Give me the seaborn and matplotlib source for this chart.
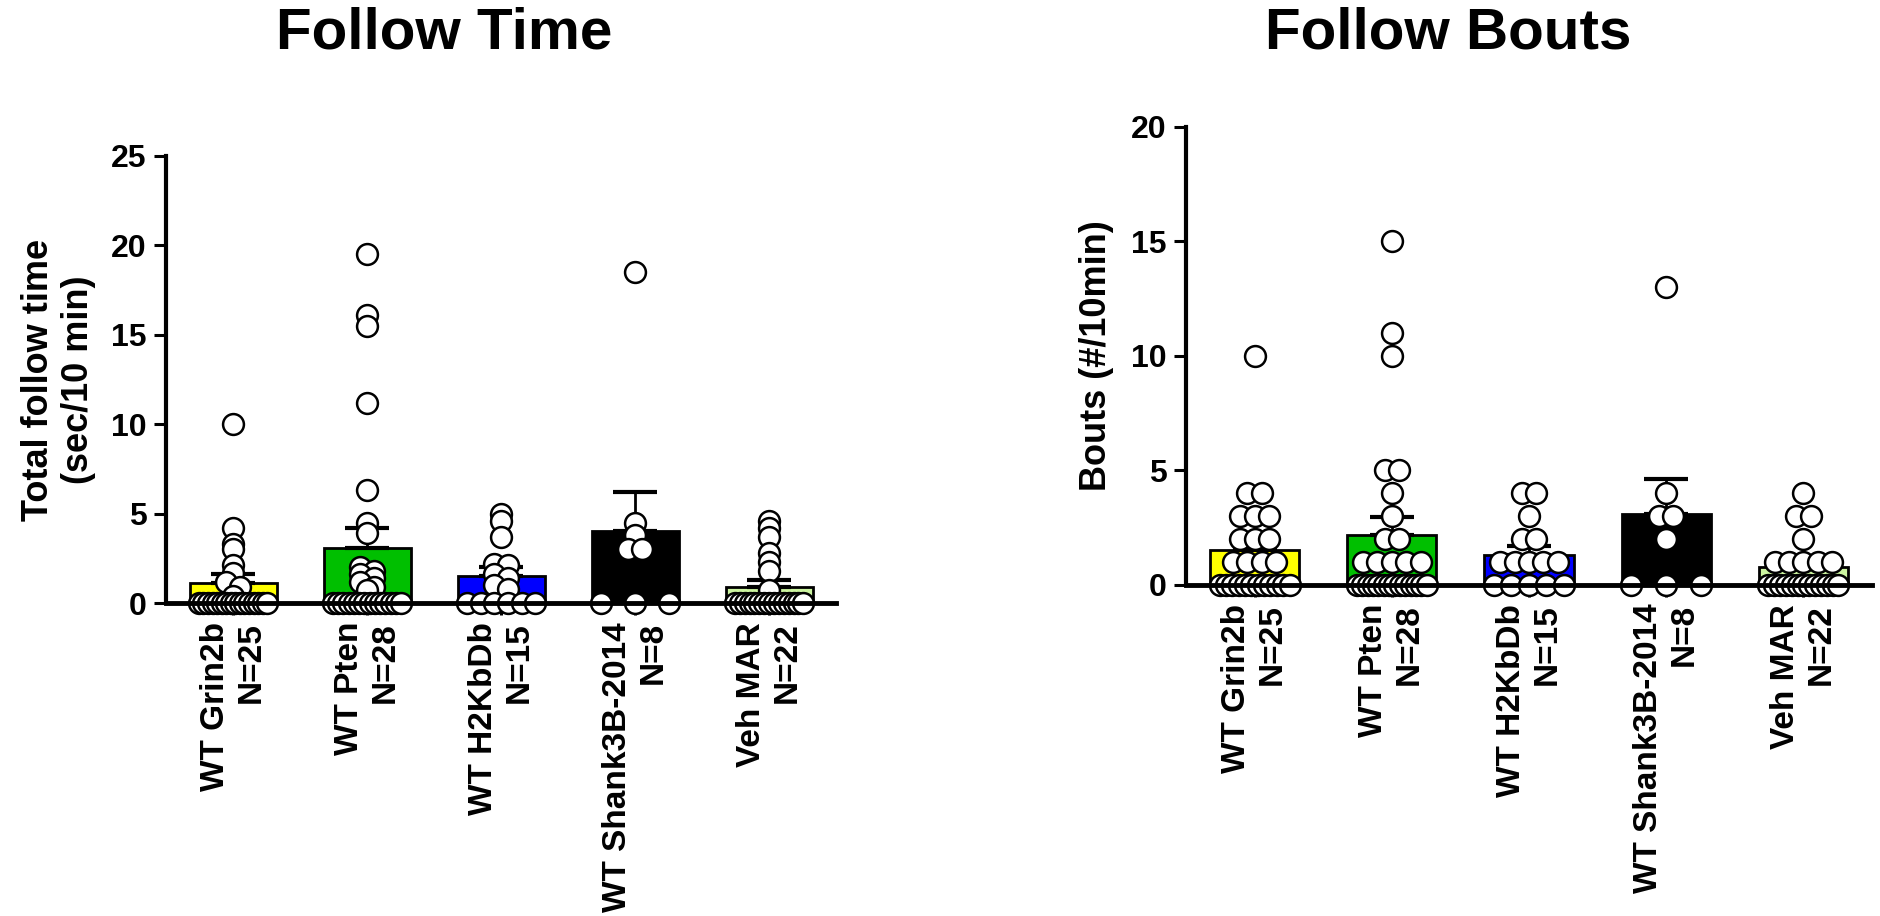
import numpy as np
import seaborn as sns
import matplotlib.pyplot as plt

groups = ["WT Grin2b", "WT Pten", "WT H2KbDb", "WT Shank3B-2014", "Veh MAR"]
n_animals = [25, 28, 15, 8, 22]
bar_colors = ["#ffff00", "#00bf00", "#0000ff", "#000000", "#ccf5a0"]

# follow time (sec/10 min): bar = mean, error = SEM (upper only)
time_mean = [1.14, 3.08, 1.51, 4.03, 0.90]
time_sem = [0.50, 1.10, 0.50, 2.16, 0.37]
time_grin2b = [10.0, 4.2, 3.3, 3.0, 2.1, 1.7, 1.2, 0.9, 0.4,
               0, 0, 0, 0, 0, 0, 0, 0, 0, 0, 0, 0, 0, 0, 0, 0]
time_pten = [19.5, 16.1, 15.5, 11.2, 6.3, 4.5, 3.9, 2.0, 1.8, 1.6, 1.4, 1.2, 0.9, 0.7,
             0, 0, 0, 0, 0, 0, 0, 0, 0, 0, 0, 0, 0, 0]
time_h2kbdb = [5.0, 4.6, 3.7, 2.2, 2.1, 1.6, 1.4, 1.0, 0.8, 0, 0, 0, 0, 0, 0]
time_shank3b = [18.5, 4.5, 3.8, 3.0, 3.0, 0, 0, 0]
time_veh = [4.6, 4.2, 3.7, 2.8, 2.3, 1.8, 0.7,
            0, 0, 0, 0, 0, 0, 0, 0, 0, 0, 0, 0, 0, 0, 0]

# follow bouts (#/10 min)
bouts_mean = [1.53, 2.18, 1.31, 3.08, 0.80]
bouts_sem = [0.51, 0.77, 0.39, 1.55, 0.32]
bouts_grin2b = [10, 4, 4, 3, 3, 3, 2, 2, 2, 1, 1, 1, 1,
                0, 0, 0, 0, 0, 0, 0, 0, 0, 0, 0, 0]
bouts_pten = [15, 11, 10, 5, 5, 4, 3, 2, 2, 1, 1, 1, 1, 1,
              0, 0, 0, 0, 0, 0, 0, 0, 0, 0, 0, 0, 0, 0]
bouts_h2kbdb = [4, 4, 3, 2, 2, 1, 1, 1, 1, 1, 0, 0, 0, 0, 0]
bouts_shank3b = [13, 4, 3, 3, 2, 0, 0, 0]
bouts_veh = [4, 3, 3, 2, 1, 1, 1, 1, 1,
             0, 0, 0, 0, 0, 0, 0, 0, 0, 0, 0, 0, 0]

sns.set_style("ticks")
plt.rcParams["font.family"] = ["Liberation Sans", "DejaVu Sans"]
plt.rcParams["font.weight"] = "bold"
plt.rcParams["axes.labelweight"] = "bold"
for key in ["text.color", "axes.labelcolor", "xtick.color", "ytick.color", "axes.edgecolor"]:
    plt.rcParams[key] = "black"

BAR_W = 0.65
DOT = 0.14  # dot diameter in category units


def spread(vals, step):
    # column-scatter offsets: zeros fill the bar, other rows bunch up in the middle
    vals = np.asarray(vals, float)
    off = np.zeros(len(vals))
    rows = np.round(vals / step)
    for r in np.unique(rows):
        idx = np.where(rows == r)[0]
        n = len(idx)
        if n < 2:
            continue
        if r == 0:
            gap = (BAR_W - DOT) / (n - 1)
        else:
            gap = min(DOT * 0.75, (BAR_W - DOT) / (n - 1))
        off[idx] = (np.arange(n) - (n - 1) / 2) * gap
    return off


def panel(ax, means, sems, pts, step, ymax, ylabel, lab_x):
    sns.barplot(x=groups, y=means, hue=groups, palette=bar_colors, legend=False, saturation=1,
                width=BAR_W, edgecolor="black", linewidth=2, ax=ax, zorder=1)
    ax.errorbar(range(len(groups)), means, yerr=[np.zeros(len(means)), sems],
                fmt="none", ecolor="black", elinewidth=2, capsize=16, capthick=3, zorder=2)
    xs, ys = [], []
    for i, vals in enumerate(pts):
        xs.extend(i + spread(vals, step))
        ys.extend(vals)
    sns.scatterplot(x=xs, y=ys, color="white", edgecolor="black", s=225, linewidth=1.8,
                    zorder=2.2, clip_on=False, legend=False, ax=ax)
    ax.set_xlim(-0.5, len(groups) - 0.5)
    ax.set_ylim(0, ymax)
    ax.set_yticks(np.arange(0, ymax + 1, 5))
    ax.set_xticks(range(len(groups)))
    ax.set_xticklabels([f"{g}\nN={n}" for g, n in zip(groups, n_animals)],
                       rotation=90, ha="center", va="top", multialignment="right",
                       fontsize=24, fontweight="bold")
    ax.tick_params(axis="y", labelsize=23, width=2.2, length=8.6, pad=5.5)
    ax.tick_params(axis="x", width=2.2, length=8.6, pad=5)
    for t in ax.get_yticklabels():
        t.set_fontweight("bold")
    sns.despine(ax=ax)
    ax.spines["left"].set_linewidth(3)
    ax.spines["bottom"].set_linewidth(3.5)
    ax.set_xlabel("")
    ax.set_ylabel(ylabel, fontsize=26, fontweight="bold", multialignment="center")
    ax.yaxis.set_label_coords(lab_x, 0.5)


fig = plt.figure(figsize=(18.81, 9.16), dpi=100)
ax1 = fig.add_axes([0.0883, 0.3417, 0.3562, 0.488])
ax2 = fig.add_axes([0.6305, 0.3614, 0.3647, 0.500])

panel(ax1, time_mean, time_sem,
      [time_grin2b, time_pten, time_h2kbdb, time_shank3b, time_veh],
      0.5, 25, "Total follow time\n(sec/10 min)", -0.104)
panel(ax2, bouts_mean, bouts_sem,
      [bouts_grin2b, bouts_pten, bouts_h2kbdb, bouts_shank3b, bouts_veh],
      1.0, 20, "Bouts (#/10min)", -0.105)

fig.text(0.236, 0.963, "Follow Time", ha="center", va="center", fontsize=42, fontweight="bold")
fig.text(0.770, 0.963, "Follow Bouts", ha="center", va="center", fontsize=42, fontweight="bold")

fig.savefig("out.png", dpi=100, facecolor="white")
